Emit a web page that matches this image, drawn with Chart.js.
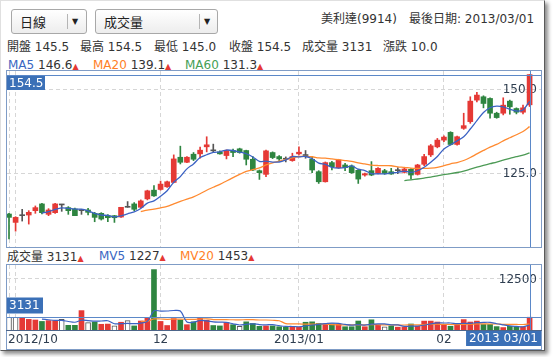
<!DOCTYPE html>
<html><head><meta charset="utf-8">
<script src="https://cdn.jsdelivr.net/npm/chart.js@4.4.0/dist/chart.umd.min.js"></script>
<style>
body{margin:0;width:554px;height:357px;overflow:hidden;background:#fff;font-family:"DejaVu Sans","Noto Sans CJK TC",sans-serif;font-size:12px;color:#333;}
.abs{position:absolute;white-space:nowrap;line-height:14px;}
#outer{position:absolute;left:0;top:0;width:545px;height:351px;box-sizing:border-box;border-right:1px solid #5a5a5a;border-bottom:1px solid #5a5a5a;border-left:1px solid #e0e0e0;border-top:1px solid #e0e0e0;box-shadow:3px 3px 4px rgba(0,0,0,0.45);background:#fff;}
.sel{position:absolute;height:25px;box-sizing:border-box;border:1px solid #a8a8a8;border-radius:3px;background:linear-gradient(#ffffff,#ededed);font-size:13px;line-height:23px;color:#222;}
.sel .t{position:absolute;left:8px;top:0;font-family:"Noto Sans CJK TC",sans-serif;}
.sel .sep{position:absolute;top:4px;width:1px;height:15px;background:#b5b5b5;}
.sel .arr{position:absolute;top:0;font-size:8px;font-style:normal;color:#222;}
.frame{position:absolute;box-sizing:border-box;border:1px solid #7f9cc6;}
.tri{color:#e53935;font-size:8px;}
.cj{font-family:"Noto Sans CJK TC",sans-serif;}
canvas{position:absolute;}
</style></head>
<body>
<div id="outer"></div>

<div class="sel" style="left:11px;top:9px;width:76px;"><span class="t">日線</span><i class="sep" style="left:55px"></i><i class="arr" style="left:60px">▼</i></div>
<div class="sel" style="left:95px;top:9px;width:123px;"><span class="t">成交量</span><i class="sep" style="left:103px"></i><i class="arr" style="left:108px">▼</i></div>

<div class="abs" style="left:321px;top:11px;"><span class="cj">美利達</span>(9914)</div>
<div class="abs" style="left:409px;top:11px;"><span class="cj">最後日期</span>: 2013/03/01</div>

<div class="abs" style="left:7px;top:39px;"><span class="cj">開盤</span> 145.5</div>
<div class="abs" style="left:80px;top:39px;"><span class="cj">最高</span> 154.5</div>
<div class="abs" style="left:154px;top:39px;"><span class="cj">最低</span> 145.0</div>
<div class="abs" style="left:229px;top:39px;"><span class="cj">收盤</span> 154.5</div>
<div class="abs" style="left:302px;top:39px;"><span class="cj">成交量</span> 3131</div>
<div class="abs" style="left:383px;top:39px;"><span class="cj">漲跌</span> 10.0</div>

<div class="abs" style="left:8px;top:58px;"><span style="color:#3a66c2">MA5</span> 146.6<span class="tri">▲</span></div>
<div class="abs" style="left:93px;top:58px;"><span style="color:#ff7f27">MA20</span> 139.1<span class="tri">▲</span></div>
<div class="abs" style="left:185px;top:58px;"><span style="color:#45a055">MA60</span> 131.3<span class="tri">▲</span></div>

<div class="abs" style="left:7px;top:249px;"><span class="cj">成交量</span> 3131<span class="tri">▲</span></div>
<div class="abs" style="left:99px;top:249px;"><span style="color:#3a66c2">MV5</span> 1227<span class="tri">▲</span></div>
<div class="abs" style="left:180px;top:249px;"><span style="color:#ff7f27">MV20</span> 1453<span class="tri">▲</span></div>

<div class="frame" style="left:6px;top:70px;width:536px;height:178px;"></div>
<div class="frame" style="left:6px;top:264px;width:536px;height:86px;"></div>
<div style="position:absolute;left:6px;top:330px;width:536px;height:1px;background:#4d6589;"></div>

<canvas id="price" width="534" height="176" style="left:7px;top:71px;width:534px;height:176px;"></canvas>
<canvas id="vol" width="534" height="83" style="left:7px;top:265px;width:534px;height:83px;"></canvas>

<script>
// ===== DATA (daily, 80 trading days, 2012/10/31 .. 2013/03/01) =====
const opens = [113.0,110.5,112.5,112.7,114.0,116.0,112.9,113.4,115.7,114.9,
 114.5,114.0,114.2,113.2,113.2,112.5,112.5,112.1,115.0,116.0,
 115.0,117.5,120.1,120.3,121.1,122.4,129.9,128.4,130.8,130.9,
 133.0,131.8,131.5,130.4,131.9,132.4,131.9,129.3,125.9,124.8,
 131.3,130.1,129.3,128.9,130.9,130.4,129.3,125.6,122.6,128.3,
 126.8,127.6,127.3,126.0,124.6,125.9,125.1,125.9,125.6,125.9,
 125.4,126.3,124.8,127.8,130.6,133.0,135.0,137.3,133.7,138.5,
 140.5,146.9,147.9,147.4,143.0,143.0,146.6,144.4,143.3,145.5];
const highs = [113.2,112.2,114.4,114.0,115.4,116.2,114.6,116.2,115.9,115.2,
 114.8,114.4,114.7,113.5,113.4,112.8,112.6,115.0,116.7,116.4,
 117.2,120.1,121.5,122.8,122.8,130.6,133.2,130.1,131.3,132.9,
 136.0,133.8,131.8,132.1,132.3,132.6,132.0,130.1,126.1,132.0,
 131.5,130.4,130.0,131.1,133.0,131.9,130.1,125.9,128.5,128.7,
 129.3,128.1,127.6,126.3,125.2,128.6,126.8,126.3,126.6,126.8,
 126.6,126.5,127.8,130.8,133.7,135.5,136.3,137.5,136.2,143.0,
 147.9,149.2,148.2,147.6,143.3,147.6,146.9,144.6,145.4,154.5];
const lows = [105.6,107.9,110.9,110.0,113.2,113.0,112.5,113.2,113.8,112.9,
 112.5,112.9,112.7,110.7,111.2,110.7,110.5,112.0,115.0,114.0,
 114.9,117.2,118.2,120.1,120.9,122.3,127.9,128.3,128.9,129.6,
 131.5,131.5,130.8,129.4,130.1,131.1,127.6,125.9,123.3,124.1,
 129.5,128.9,128.5,128.7,130.6,129.6,125.3,122.1,122.5,126.1,
 126.6,125.9,125.1,122.1,124.3,124.4,124.9,124.8,124.8,125.0,
 125.2,123.4,124.6,127.4,130.1,132.7,134.5,133.5,133.5,138.2,
 140.0,146.4,144.6,141.5,141.5,142.5,142.7,142.8,142.8,145.0];
const closes = [112.0,112.0,112.5,113.5,114.9,113.4,114.2,116.0,115.7,114.0,
 112.5,114.0,113.5,112.0,111.5,111.9,111.9,115.0,115.0,114.4,
 116.9,119.9,118.4,121.9,122.6,129.4,128.4,129.9,129.3,132.0,
 133.6,131.8,130.9,131.9,131.3,131.3,129.3,126.1,125.3,131.8,
 129.8,129.4,129.3,130.1,131.4,130.4,126.1,122.6,128.3,127.1,
 129.1,126.8,125.3,123.4,125.0,124.6,126.6,125.1,124.9,125.9,
 126.4,124.6,127.6,130.1,133.3,135.0,135.9,133.7,136.0,139.3,
 146.6,148.4,145.9,143.0,141.7,145.4,144.9,143.3,144.6,154.5];
// moving averages (first value at the given day index)
const ma5Start = 5;
const ma5 = [113.26,113.70,114.40,114.84,114.66,114.48,114.44,113.94,113.20,112.70,
 112.58,112.16,112.46,113.06,113.64,114.64,116.24,116.92,118.30,119.94,
 122.44,124.14,126.44,127.92,129.80,130.64,131.32,131.52,132.04,131.90,
 131.44,130.94,129.98,128.66,128.76,128.46,128.48,129.12,130.08,130.00,
 130.12,129.46,128.12,127.76,126.90,126.64,126.78,127.32,126.34,125.92,
 125.02,124.98,124.94,125.24,125.42,125.78,125.38,125.88,126.92,128.40,
 130.12,132.38,133.60,134.78,135.98,138.30,140.80,143.24,144.64,145.12,
 144.88,144.18,143.66,143.98,146.54];
const ma20Start = 20;
const ma20 = [113.74,114.14,114.43,114.85,115.24,116.04,116.75,117.44,118.12,119.02,
 120.08,120.97,121.84,122.83,123.82,124.79,125.66,126.22,126.73,127.60,
 128.25,128.72,129.27,129.68,130.12,130.17,130.05,129.69,129.64,129.39,
 129.17,128.92,128.64,128.21,127.90,127.56,127.43,127.38,127.36,127.06,
 126.89,126.65,126.57,126.57,126.66,126.89,127.38,127.94,128.32,128.93,
 129.81,130.89,131.92,132.90,133.73,134.77,135.69,136.60,137.58,139.01];
const ma60Start = 60;
const ma60 = [122.96,123.17,123.42,123.70,124.00,124.36,124.73,125.02,125.36,125.78,
 126.35,126.92,127.46,127.98,128.48,129.04,129.59,130.06,130.56,131.22];

const volumes = [3100,3100,3100,2600,2450,2100,2300,2300,2600,1150,
 1150,4750,1800,1950,1400,1450,1050,1900,2300,1000,
 2200,3100,14800,2100,1100,2800,2450,1300,2000,3100,
 2400,1100,1000,1800,1300,900,2000,1600,900,1000,
 1000,800,700,800,700,1900,2000,1600,1500,1500,
 1400,800,800,2200,800,2500,1200,800,1000,700,
 740,1470,920,2180,2180,1950,1350,920,1350,2550,
 1950,2180,1350,1350,830,600,900,700,800,3131];
// price direction of each day vs previous close: u = up, d = down, f = flat
const volDir = ['f','f','u','u','u','d','u','u','f','d',
 'd','u','f','d','u','u','f','u','f','d',
 'u','u','d','u','u','u','d','u','d','u',
 'u','d','d','u','d','f','d','d','d','u',
 'd','d','d','u','u','d','d','d','u','d',
 'u','d','d','d','u','d','u','f','d','u',
 'u','d','u','u','u','u','u','d','u','u',
 'u','u','d','d','d','u','d','d','u','u'];
const mv5Start = 5;
const mv5 = [2670,2510,2350,2350,2090,1900,2390,2290,2160,2210,
 2270,1530,1550,1620,1540,1690,2100,4680,4640,4660,
 4780,4650,1950,1930,2330,2250,1980,1920,1880,1520,
 1220,1400,1520,1340,1280,1300,1060,880,860,800,
 980,1220,1400,1540,1700,1600,1360,1200,1340,1200,
 1420,1500,1500,1260,1240,888,942,966,1202,1498,
 1740,1716,1716,1550,1624,1624,1790,1876,1876,1532,
 1262,1006,876,766,1226];
const mv20Start = 20;
const mv20 = [2133,2133,2718,2693,2625,2660,2668,2618,2588,2685,
 2748,2565,2525,2518,2513,2485,2533,2518,2448,2448,
 2388,2273,1568,1503,1483,1438,1415,1430,1405,1325,
 1275,1260,1250,1270,1245,1325,1285,1245,1250,1235,
 1222,1256,1267,1336,1410,1412,1380,1346,1338,1391,
 1418,1487,1515,1472,1474,1379,1364,1359,1349,1470];

const priceTicks = [150, 125];
const volTicks = [12500];
const gridDays = [0, 1, 23, 44, 66];
const dateLabels = ['2012/10', '12', '2013/01', '02'];
const dateLabelDays = [1, 23, 44, 66];
const lastDateLabel = '2013 03/01';

// ===== STYLE =====
const RED = '#e53935', GREEN = '#2e8540', GRAY = '#555555';
const FONT = '12px "DejaVu Sans"';
const TXT = '#2f3e50';
const CROSS = '#5b88c8', TAG = '#3b70b7';
const X_MIN = -0.3035, X_MAX = 80.73;

const candleColor = closes.map((c, i) => c > opens[i] ? RED : (c < opens[i] ? GREEN : GRAY));
const series = (arr, start) => arr.map((v, k) => ({x: start + k, y: v}));

function xScale() {
  return {type:'linear', min:X_MIN, max:X_MAX, offset:false,
    grid:{color:'#d6d6d6', drawTicks:false, offset:false}, border:{display:false, dash:[4,3]},
    ticks:{display:false},
    afterBuildTicks: s => { s.ticks = gridDays.map(v => ({value:v})); }};
}

const mainOverlay = {
  id:'mainOverlay',
  beforeDatasetsDraw(chart) {
    const {ctx, chartArea:a, scales:{y}} = chart;
    ctx.save(); ctx.font = FONT; ctx.fillStyle = TXT; ctx.textAlign = 'right'; ctx.textBaseline = 'middle';
    priceTicks.forEach(v => ctx.fillText(v.toFixed(1), a.right - 4, y.getPixelForValue(v) + 0.5));
    ctx.restore();
  },
  afterDatasetsDraw(chart) {
    const {ctx, chartArea:a, scales:{x, y}} = chart;
    const last = closes.length - 1;
    const px = Math.round(x.getPixelForValue(last)) + 0.5;
    const py = Math.round(y.getPixelForValue(closes[last])) + 0.5;
    ctx.save();
    ctx.strokeStyle = CROSS; ctx.lineWidth = 1; ctx.beginPath();
    ctx.moveTo(a.left, py); ctx.lineTo(a.right, py);
    ctx.moveTo(px, a.top); ctx.lineTo(px, a.bottom); ctx.stroke();
    ctx.fillStyle = TAG; ctx.fillRect(a.left, py + 0.5, 38, 14);
    ctx.fillStyle = '#fff'; ctx.font = FONT; ctx.textAlign = 'left'; ctx.textBaseline = 'middle';
    ctx.fillText(closes[last].toFixed(1), a.left + 2, py + 8);
    ctx.restore();
  }
};

new Chart(document.getElementById('price'), {
  type:'bar',
  data:{datasets:[
    {type:'line', data:series(ma5, ma5Start), borderColor:'#3b62c4', borderWidth:1.3, pointRadius:0, tension:0.3, order:0},
    {type:'line', data:series(ma20, ma20Start), borderColor:'#ff8a30', borderWidth:1.3, pointRadius:0, tension:0.3, order:0},
    {type:'line', data:series(ma60, ma60Start), borderColor:'#4c9a55', borderWidth:1.3, pointRadius:0, tension:0.3, order:0},
    {type:'bar', data:opens.map((o, i) => ({x:i, y:[Math.min(o, closes[i]), Math.max(o, closes[i])]})),
      backgroundColor:candleColor, barThickness:5, minBarLength:1, grouped:false, order:1},
    {type:'bar', data:lows.map((l, i) => ({x:i, y:[l, highs[i]]})),
      backgroundColor:candleColor, barThickness:1, grouped:false, order:2}
  ]},
  options:{responsive:false, animation:false, devicePixelRatio:1, events:[],
    layout:{padding:0},
    plugins:{legend:{display:false}, tooltip:{enabled:false}},
    scales:{
      x:xScale(),
      y:{type:'linear', min:103.18, max:155.57,
        grid:{color:'#d6d6d6', drawTicks:false}, border:{display:false, dash:[4,3]},
        ticks:{display:false},
        afterBuildTicks: s => { s.ticks = priceTicks.map(v => ({value:v})); }}
    }},
  plugins:[mainOverlay]
});

const volOverlay = {
  id:'volOverlay',
  beforeDatasetsDraw(chart) {
    const {ctx, chartArea:a, scales:{y}} = chart;
    ctx.save(); ctx.font = FONT; ctx.fillStyle = TXT; ctx.textAlign = 'right'; ctx.textBaseline = 'middle';
    volTicks.forEach(v => ctx.fillText(String(v), a.right - 4, y.getPixelForValue(v) + 0.5));
    ctx.restore();
  },
  afterDatasetsDraw(chart) {
    const {ctx, chartArea:a, scales:{x, y}} = chart;
    const last = volumes.length - 1;
    const px = Math.round(x.getPixelForValue(last)) + 0.5;
    const py = Math.round(y.getPixelForValue(volumes[last])) + 0.5;
    ctx.save();
    ctx.strokeStyle = CROSS; ctx.lineWidth = 1; ctx.beginPath();
    ctx.moveTo(a.left, py); ctx.lineTo(a.right, py);
    ctx.moveTo(px, a.top); ctx.lineTo(px, a.bottom); ctx.stroke();
    ctx.fillStyle = TAG; ctx.fillRect(a.left, py - 20, 36, 16);
    ctx.font = FONT; ctx.textBaseline = 'middle';
    ctx.fillStyle = '#fff'; ctx.textAlign = 'left';
    ctx.fillText(String(volumes[last]), a.left + 2, py - 11.5);
    // date axis labels
    ctx.fillStyle = TXT;
    const ly = a.bottom + 9.5;
    dateLabels.forEach((t, k) => {
      const w = ctx.measureText(t).width;
      let lx = x.getPixelForValue(dateLabelDays[k]) - w / 2;
      lx = Math.max(a.left + 1, lx);
      ctx.fillText(t, lx, ly);
    });
    const w = ctx.measureText(lastDateLabel).width + 6;
    let bx = Math.min(x.getPixelForValue(last) - w / 2, a.right - w);
    ctx.fillStyle = TAG; ctx.fillRect(bx, a.bottom + 1, w, 15);
    ctx.fillStyle = '#fff'; ctx.fillText(lastDateLabel, bx + 3, a.bottom + 9);
    ctx.restore();
  }
};

const volFill = volDir.map(d => d === 'u' ? RED : (d === 'd' ? GREEN : '#ffffff'));
const volBorder = volDir.map(d => d === 'f' ? '#555555' : 'rgba(0,0,0,0)');
const volBorderW = volDir.map(d => d === 'f' ? 1 : 0);

new Chart(document.getElementById('vol'), {
  type:'bar',
  data:{datasets:[
    {type:'line', data:series(mv5, mv5Start), borderColor:'#3b62c4', borderWidth:1.2, pointRadius:0, tension:0.3, order:0},
    {type:'line', data:series(mv20, mv20Start), borderColor:'#ff8a30', borderWidth:1.2, pointRadius:0, tension:0.3, order:0},
    {type:'bar', data:volumes.map((v, i) => ({x:i, y:v})), backgroundColor:volFill, borderColor:volBorder,
      borderWidth:volBorderW, barThickness:5, grouped:false, order:1}
  ]},
  options:{responsive:false, animation:false, devicePixelRatio:1, events:[],
    layout:{padding:{left:0, right:0, top:0, bottom:18}},
    plugins:{legend:{display:false}, tooltip:{enabled:false}},
    scales:{
      x:xScale(),
      y:{type:'linear', min:0, max:15925,
        grid:{color:'#d6d6d6', drawTicks:false}, border:{display:false, dash:[4,3]},
        ticks:{display:false},
        afterBuildTicks: s => { s.ticks = volTicks.map(v => ({value:v})); }}
    }},
  plugins:[volOverlay]
});
</script>
</body></html>
